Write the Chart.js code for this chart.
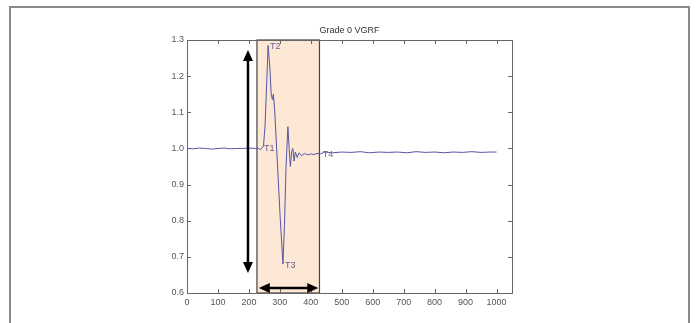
<!DOCTYPE html>
<html>
<head>
<meta charset="utf-8">
<script src="https://cdn.jsdelivr.net/npm/chart.js@4/dist/chart.umd.min.js"></script>
<style>
  html, body { margin: 0; padding: 0; background: #fff; }
  #wrap { width: 699px; height: 323px; position: relative; }
</style>
</head>
<body>
<div id="wrap"><canvas id="chart" width="699" height="323"></canvas></div>
<script>
// Grade 0 vertical ground reaction force (normalised) against sample number
const sampleTimes = [
  0, 20, 40, 60, 80, 100, 120, 140, 160, 180, 200, 220,
  230, 238, 243, 247, 252, 257, 262, 268, 272, 276, 279, 283,
  292, 301, 310, 315, 320, 326, 330, 334, 338, 342, 346, 350,
  356, 362, 370, 380, 390, 400, 410, 420, 432, 445,
  470, 500, 530, 560, 590, 620, 650, 680, 710, 740, 770, 800,
  830, 860, 890, 920, 950, 980, 1000
];
const forceValues = [
  1.000, 0.999, 1.001, 1.000, 0.998, 1.000, 1.001, 0.999, 1.000, 1.000, 1.001, 1.000,
  1.000, 0.997, 1.003, 1.005, 1.060, 1.170, 1.285, 1.220, 1.150, 1.135, 1.150, 1.110,
  0.960, 0.810, 0.680, 0.790, 0.950, 1.060, 1.000, 0.950, 0.990, 1.000, 0.965, 0.990,
  0.975, 0.988, 0.980, 0.986, 0.982, 0.985, 0.983, 0.986, 0.985, 0.990,
  0.988, 0.990, 0.989, 0.991, 0.988, 0.990, 0.989, 0.990, 0.988, 0.991, 0.989, 0.990,
  0.988, 0.990, 0.989, 0.991, 0.989, 0.990, 0.990
];
const xTickValues = [0, 100, 200, 300, 400, 500, 600, 700, 800, 900, 1000];
const yTickValues = [0.6, 0.7, 0.8, 0.9, 1.0, 1.1, 1.2, 1.3];

// event markers and highlighted window
const markerNames = ['T1', 'T2', 'T3', 'T4'];
const markerTimes = [242, 262, 310, 432];
const markerForces = [1.003, 1.285, 0.680, 0.985];
const windowRange = [226, 428];
const heightArrow = [197, 1.272, 0.655];   // x, top, bottom
const widthArrow = [232, 424, 0.614];      // left, right, y

const points = sampleTimes.map((t, i) => ({ x: t, y: forceValues[i] }));

const annotate = {
  id: 'annotate',
  beforeDraw(chart) {
    const c = chart.ctx;
    c.save();
    c.fillStyle = '#fff';
    c.fillRect(0, 0, chart.width, chart.height);
    c.strokeStyle = '#8a8a8a';
    c.lineWidth = 2;
    c.strokeRect(10, 7, 679, 340);
    c.fillStyle = '#333';
    c.font = '9px "Liberation Sans", Arial, sans-serif';
    c.textAlign = 'center';
    c.textBaseline = 'bottom';
    c.fillText('Grade 0 VGRF', (chart.chartArea.left + chart.chartArea.right) / 2, chart.chartArea.top - 5);
    c.restore();
  },
  beforeDatasetsDraw(chart) {
    const c = chart.ctx, x = chart.scales.x, y = chart.scales.y, a = chart.chartArea;
    const l = x.getPixelForValue(windowRange[0]), r = x.getPixelForValue(windowRange[1]);
    c.save();
    c.fillStyle = '#fde8d6';
    c.fillRect(l, a.top, r - l, a.bottom - a.top);
    c.strokeStyle = '#444';
    c.lineWidth = 1.2;
    c.strokeRect(l, a.top, r - l, a.bottom - a.top);
    // box + inward ticks
    c.strokeStyle = '#666';
    c.lineWidth = 1;
    c.strokeRect(a.left + 0.5, a.top + 0.5, a.right - a.left, a.bottom - a.top);
    c.beginPath();
    xTickValues.forEach(v => {
      const px = Math.round(x.getPixelForValue(v)) + 0.5;
      c.moveTo(px, a.bottom); c.lineTo(px, a.bottom - 4);
      c.moveTo(px, a.top); c.lineTo(px, a.top + 4);
    });
    yTickValues.forEach(v => {
      const py = Math.round(y.getPixelForValue(v)) + 0.5;
      c.moveTo(a.left, py); c.lineTo(a.left + 4, py);
      c.moveTo(a.right, py); c.lineTo(a.right - 4, py);
    });
    c.stroke();
    c.restore();
  },
  afterDatasetsDraw(chart) {
    const c = chart.ctx, x = chart.scales.x, y = chart.scales.y;
    c.save();
    c.fillStyle = '#6b5f8a';
    c.font = '9px "Liberation Sans", Arial, sans-serif';
    c.textBaseline = 'middle';
    c.textAlign = 'left';
    markerNames.forEach((n, i) => {
      c.fillText(n, x.getPixelForValue(markerTimes[i]) + 2, y.getPixelForValue(markerForces[i]) + 1);
    });
    // arrows
    c.strokeStyle = '#000';
    c.fillStyle = '#000';
    c.lineWidth = 2.5;
    const ax = x.getPixelForValue(heightArrow[0]);
    const at = y.getPixelForValue(heightArrow[1]), ab = y.getPixelForValue(heightArrow[2]);
    c.beginPath(); c.moveTo(ax, at + 8); c.lineTo(ax, ab - 8); c.stroke();
    c.beginPath(); c.moveTo(ax, at); c.lineTo(ax - 5, at + 11); c.lineTo(ax + 5, at + 11); c.closePath(); c.fill();
    c.beginPath(); c.moveTo(ax, ab); c.lineTo(ax - 5, ab - 11); c.lineTo(ax + 5, ab - 11); c.closePath(); c.fill();
    const hl = x.getPixelForValue(widthArrow[0]), hr = x.getPixelForValue(widthArrow[1]);
    const hy = y.getPixelForValue(widthArrow[2]);
    c.beginPath(); c.moveTo(hl + 8, hy); c.lineTo(hr - 8, hy); c.stroke();
    c.beginPath(); c.moveTo(hl, hy); c.lineTo(hl + 11, hy - 5); c.lineTo(hl + 11, hy + 5); c.closePath(); c.fill();
    c.beginPath(); c.moveTo(hr, hy); c.lineTo(hr - 11, hy - 5); c.lineTo(hr - 11, hy + 5); c.closePath(); c.fill();
    c.restore();
  }
};

new Chart(document.getElementById('chart'), {
  type: 'line',
  data: {
    datasets: [{
      data: points,
      borderColor: '#5656a6',
      borderWidth: 1,
      pointRadius: 0,
      tension: 0
    }]
  },
  options: {
    responsive: false,
    animation: false,
    layout: { padding: { left: 0, right: 187, top: 40, bottom: 0 } },
    plugins: { legend: { display: false }, tooltip: { enabled: false } },
    scales: {
      x: {
        type: 'linear',
        min: 0,
        max: 1050,
        afterBuildTicks: s => { s.ticks = xTickValues.map(v => ({ value: v })); },
        afterFit: s => { s.height = 30; },
        grid: { display: false, drawTicks: false, tickLength: 0 },
        border: { display: false },
        ticks: {
          color: '#555',
          padding: 4,
          maxRotation: 0,
          callback: v => String(v),
          font: { family: '"Liberation Sans", Arial, sans-serif', size: 9 }
        }
      },
      y: {
        min: 0.6,
        max: 1.3,
        afterBuildTicks: s => { s.ticks = yTickValues.map(v => ({ value: v })); },
        afterFit: s => { s.width = 187; },
        grid: { display: false, drawTicks: false, tickLength: 0 },
        border: { display: false },
        ticks: {
          color: '#555',
          padding: 3,
          callback: v => v.toFixed(1),
          font: { family: '"Liberation Sans", Arial, sans-serif', size: 9 }
        }
      }
    }
  },
  plugins: [annotate]
});
</script>
</body>
</html>
